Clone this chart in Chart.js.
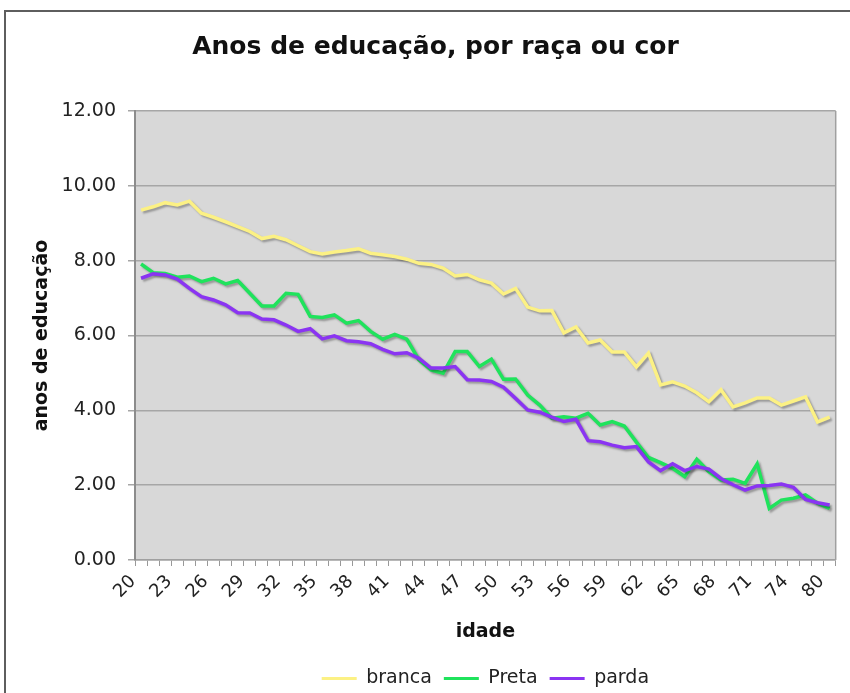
<!DOCTYPE html>
<html>
<head>
<meta charset="utf-8">
<script src="https://cdn.jsdelivr.net/npm/chart.js@4"></script>
<style>
  body { margin: 0; background: #fff; }
  #wrap { position: relative; width: 850px; height: 693px; }
</style>
</head>
<body>
<div id="wrap"><canvas id="grafica" width="850" height="693"></canvas></div>
<script>
const idades = ['20','21','22','23','24','25','26','27','28','29','30','31','32','33','34','35','36','37','38','39',
  '40','41','42','43','44','45','46','47','48','49','50','51','52','53','54','55','56','57','58','59',
  '60','61','62','63','64','65','66','67','68','69','70','71','72','73','74','75','76','80'];

const branca = [9.35, 9.44, 9.55, 9.49, 9.59, 9.27, 9.16, 9.04, 8.91, 8.78, 8.59, 8.65, 8.56, 8.40, 8.24, 8.18, 8.23, 8.27, 8.32, 8.20,
  8.16, 8.11, 8.04, 7.93, 7.90, 7.80, 7.59, 7.63, 7.49, 7.40, 7.11, 7.26, 6.76, 6.66, 6.67, 6.07, 6.23, 5.80, 5.88, 5.56,
  5.56, 5.16, 5.53, 4.68, 4.76, 4.65, 4.47, 4.23, 4.55, 4.09, 4.20, 4.33, 4.33, 4.14, 4.25, 4.36, 3.69, 3.82];

const preta = [7.91, 7.68, 7.66, 7.56, 7.59, 7.44, 7.53, 7.38, 7.47, 7.13, 6.79, 6.79, 7.13, 7.10, 6.51, 6.48, 6.55, 6.33, 6.40, 6.11,
  5.90, 6.03, 5.90, 5.35, 5.08, 4.99, 5.57, 5.57, 5.17, 5.37, 4.83, 4.84, 4.41, 4.14, 3.79, 3.83, 3.79, 3.92, 3.61, 3.70,
  3.58, 3.15, 2.74, 2.60, 2.45, 2.23, 2.69, 2.36, 2.14, 2.16, 2.05, 2.57, 1.38, 1.60, 1.65, 1.74, 1.52, 1.38];

const parda = [7.53, 7.65, 7.62, 7.51, 7.26, 7.04, 6.95, 6.82, 6.61, 6.60, 6.44, 6.42, 6.28, 6.11, 6.18, 5.91, 5.99, 5.86, 5.83, 5.78,
  5.63, 5.51, 5.54, 5.39, 5.13, 5.13, 5.17, 4.82, 4.81, 4.77, 4.62, 4.32, 4.01, 3.95, 3.82, 3.70, 3.76, 3.19, 3.16, 3.07,
  3.00, 3.03, 2.62, 2.39, 2.57, 2.39, 2.50, 2.43, 2.18, 2.01, 1.87, 1.98, 1.99, 2.03, 1.94, 1.62, 1.53, 1.47];

const nomes = ['branca', 'Preta', 'parda'];
const cores = ['#fcf184', '#1fe35c', '#8a34f2'];

const fonte = "'DejaVu Sans', Verdana, sans-serif";
const graph = document.querySelector('#grafica');

// fundo cinza da área do gráfico + moldura externa
const fundo = {
  id: 'fundo',
  afterLayout(chart) {
    // título um pouco à direita, legenda um pouco mais abaixo
    chart.titleBlock.left += 28;
    chart.legend.top += 5;
    chart.legend.bottom += 5;
  },
  beforeDraw(chart) {
    const {ctx, chartArea: a} = chart;
    ctx.save();
    ctx.strokeStyle = '#5e5e5e';
    ctx.lineWidth = 2;
    ctx.strokeRect(5, 11, 900, 900);
    ctx.fillStyle = '#d8d8d8';
    ctx.fillRect(a.left, a.top, a.right - a.left, a.bottom - a.top);
    ctx.restore();
  },
  afterDraw(chart) {
    const {ctx, chartArea: a} = chart;
    ctx.save();
    ctx.strokeStyle = '#a0a0a0';
    ctx.lineWidth = 1.5;
    ctx.beginPath();
    ctx.moveTo(a.right, a.top);
    ctx.lineTo(a.right, a.bottom);
    ctx.stroke();
    ctx.restore();
  }
};

// sombra das linhas
const sombra = {
  id: 'sombra',
  beforeDatasetsDraw(chart) {
    const ctx = chart.ctx;
    ctx.save();
    ctx.shadowColor = 'rgba(0,0,0,0.3)';
    ctx.shadowOffsetX = 2;
    ctx.shadowOffsetY = 2;
    ctx.shadowBlur = 2;
  },
  afterDatasetsDraw(chart) {
    chart.ctx.restore();
  }
};

const series = [branca, preta, parda];

const data = {
  labels: idades,
  datasets: series.map((s, i) => ({
    label: nomes[i],
    data: s,
    borderColor: cores[i],
    backgroundColor: cores[i],
    borderWidth: 3.5,
    pointRadius: 0,
    tension: 0,
    order: 3 - i
  }))
};

const config = {
  type: 'line',
  data: data,
  plugins: [fundo, sombra],
  options: {
    responsive: false,
    animation: false,
    layout: { padding: { left: 0, right: 7, top: 0, bottom: 0 } },
    plugins: {
      title: {
        display: true,
        text: 'Anos de educação, por raça ou cor',
        color: '#111',
        font: { family: fonte, size: 25, weight: 'bold' },
        padding: { top: 32, bottom: 49 }
      },
      legend: {
        position: 'bottom',
        fullSize: false,
        labels: {
          color: '#222',
          font: { family: fonte, size: 19 },
          boxWidth: 35,
          boxHeight: 3,
          padding: 12,
          sort: (a, b) => a.datasetIndex - b.datasetIndex,
          generateLabels: (chart) =>
            Chart.defaults.plugins.legend.labels.generateLabels(chart).map(l => ({ ...l, lineWidth: 0 }))
        }
      },
      tooltip: { enabled: false }
    },
    scales: {
      x: {
        offset: true,
        afterFit(scale) { scale.height = 92; },
        grid: {
          offset: true,
          drawOnChartArea: false,
          drawTicks: true,
          tickLength: 6,
          color: '#999'
        },
        border: { display: true, color: '#a0a0a0', width: 1.5 },
        ticks: {
          autoSkip: false,
          maxRotation: 45,
          minRotation: 45,
          padding: 5,
          labelOffset: -8,
          color: '#222',
          font: { family: fonte, size: 18 },
          callback(val, idx) { return idx % 3 === 0 ? this.getLabelForValue(val) : ''; }
        },
        title: {
          display: true,
          text: 'idade',
          color: '#111',
          font: { family: fonte, size: 19, weight: 'bold' },
          padding: { top: 0, bottom: 9 }
        }
      },
      y: {
        min: 0,
        max: 12,
        afterFit(scale) { scale.width = 135; },
        grid: {
          color: '#a6a6a6',
          lineWidth: 1.5,
          drawTicks: true,
          tickLength: 7
        },
        border: { display: true, color: '#8c8c8c', width: 2 },
        ticks: {
          stepSize: 2,
          padding: 12,
          color: '#222',
          font: { family: fonte, size: 19 },
          callback: (v) => v.toFixed(2)
        },
        title: {
          display: true,
          text: 'anos de educação',
          color: '#111',
          font: { family: fonte, size: 19, weight: 'bold' },
          padding: { top: 31, bottom: 0 }
        }
      }
    }
  }
};

const myChart = new Chart(graph, config);
</script>
</body>
</html>
